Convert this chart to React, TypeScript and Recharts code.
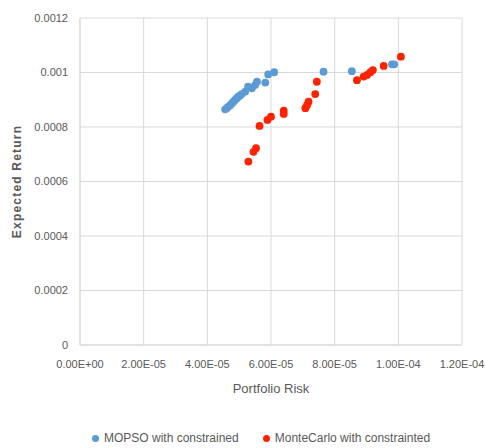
import React from "react";
import { ScatterChart, Scatter, XAxis, YAxis, CartesianGrid } from "recharts";

const mopsoRisk = [4.56e-5, 4.62e-5, 4.65e-5, 4.72e-5, 4.77e-5, 4.82e-5, 4.87e-5, 4.92e-5, 4.97e-5, 5.02e-5, 5.08e-5, 5.19e-5, 5.28e-5, 5.4e-5, 5.5e-5, 5.56e-5, 5.82e-5, 5.91e-5, 6.1e-5, 7.65e-5, 8.54e-5, 9.8e-5, 9.87e-5];
const mopsoReturn = [0.000865, 0.00087, 0.000874, 0.00088, 0.000887, 0.000893, 0.000899, 0.000905, 0.000911, 0.000915, 0.000921, 0.00093, 0.000948, 0.000942, 0.000954, 0.000966, 0.000963, 0.000993, 0.001001, 0.001003, 0.001005, 0.00103, 0.00103];

const mcRisk = [5.29e-5, 5.45e-5, 5.53e-5, 5.64e-5, 5.89e-5, 6.0e-5, 6.4e-5, 6.4e-5, 7.08e-5, 7.13e-5, 7.18e-5, 7.39e-5, 7.44e-5, 8.7e-5, 8.91e-5, 9.02e-5, 9.12e-5, 9.2e-5, 9.54e-5, 1.008e-4];
const mcReturn = [0.000673, 0.000709, 0.000722, 0.000804, 0.000826, 0.000838, 0.000848, 0.00086, 0.000869, 0.00088, 0.000893, 0.000921, 0.000966, 0.000972, 0.000985, 0.000991, 0.001001, 0.001009, 0.001024, 0.001058];

const xTicks = [0, 2e-5, 4e-5, 6e-5, 8e-5, 1e-4, 1.2e-4];
const yTicks = [0, 0.0002, 0.0004, 0.0006, 0.0008, 0.001, 0.0012];
const yTickLabels = ["0", "0.0002", "0.0004", "0.0006", "0.0008", "0.001", "0.0012"];

const seriesNames = ["MOPSO with constrained", "MonteCarlo with constrainted"];
const seriesColors = ["#5B9BD5", "#FF2200"];

const mopsoData = mopsoRisk.map((x, i) => ({ x, y: mopsoReturn[i] }));
const mcData = mcRisk.map((x, i) => ({ x, y: mcReturn[i] }));

const FONT = "'Liberation Sans', Arial, sans-serif";
const TXT = "#595959";

function fmtExp(v: number): string {
  if (v === 0) return "0.00E+00";
  const s = v.toExponential(2).toUpperCase();
  const [m, e] = s.split("E");
  const sign = e[0] === "-" ? "-" : "+";
  const digits = e.replace(/[+-]/, "").padStart(2, "0");
  return `${m}E${sign}${digits}`;
}

function fmtY(v: number): string {
  const idx = yTicks.findIndex((t) => Math.abs(t - v) < 1e-12);
  return idx >= 0 ? yTickLabels[idx] : String(v);
}

const Dot = (color: string) => (props: any) => {
  const { cx, cy } = props;
  if (cx == null || cy == null) return null;
  return <circle cx={cx} cy={cy} r={3.9} fill={color} />;
};

export default function App() {
  return (
    <div style={{ position: "absolute", left: 0, top: 0, width: 485, height: 448, background: "#fff", fontFamily: FONT }}>
      <ScatterChart width={485} height={448} margin={{ top: 18, right: 23, left: 0, bottom: 0 }}>
        <CartesianGrid stroke="#d9d9d9" strokeWidth={1} />
        <XAxis
          type="number"
          dataKey="x"
          domain={[0, 1.2e-4]}
          ticks={xTicks}
          tickFormatter={fmtExp}
          tickLine={false}
          axisLine={{ stroke: "#d9d9d9" }}
          tickMargin={9}
          height={103}
          tick={{ fill: TXT, fontSize: 11, fontFamily: FONT }}
          interval={0}
          label={{ value: "Portfolio Risk", position: "insideTop", offset: 39, fill: TXT, fontSize: 13, fontFamily: FONT }}
        />
        <YAxis
          type="number"
          dataKey="y"
          domain={[0, 0.0012]}
          ticks={yTicks}
          tickFormatter={fmtY}
          tickLine={false}
          axisLine={{ stroke: "#d9d9d9" }}
          tickMargin={6}
          width={80}
          tick={{ fill: TXT, fontSize: 11, fontFamily: FONT }}
          interval={0}
          label={{
            content: (p: any) => {
              const vb = p.viewBox || {};
              const cy = (vb.y || 0) + (vb.height || 0) / 2;
              return (
                <text
                  x={17}
                  y={cy}
                  transform={`rotate(-90 17 ${cy})`}
                  textAnchor="middle"
                  dominantBaseline="central"
                  fill={TXT}
                  fontSize={12}
                  fontWeight="bold"
                  fontFamily={FONT}
                  letterSpacing={1.2}
                >
                  Expected Return
                </text>
              );
            },
          }}
        />
        <Scatter name={seriesNames[0]} data={mopsoData} fill={seriesColors[0]} shape={Dot(seriesColors[0])} isAnimationActive={false} />
        <Scatter name={seriesNames[1]} data={mcData} fill={seriesColors[1]} shape={Dot(seriesColors[1])} isAnimationActive={false} />
      </ScatterChart>
      <div style={{ position: "absolute", top: 431, left: 92, display: "flex", alignItems: "center", fontSize: 12, color: TXT, fontFamily: FONT, whiteSpace: "nowrap" }}>
        {seriesNames.map((n, i) => (
          <div key={n} style={{ display: "flex", alignItems: "center", marginRight: i === 0 ? 24 : 0 }}>
            <span style={{ width: 7, height: 7, borderRadius: "50%", background: seriesColors[i], display: "inline-block", marginRight: 5 }} />
            <span>{n}</span>
          </div>
        ))}
      </div>
    </div>
  );
}
